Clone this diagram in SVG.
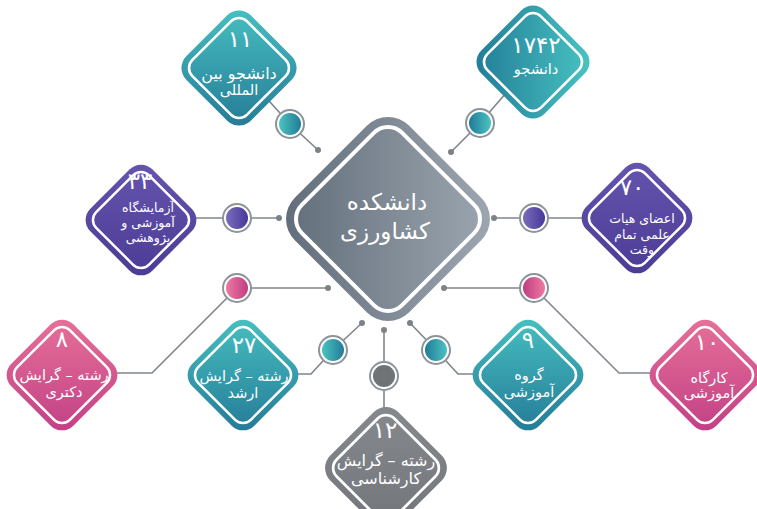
<svg xmlns="http://www.w3.org/2000/svg" xmlns:xlink="http://www.w3.org/1999/xlink" width="757" height="509" viewBox="0 0 757 509">
<style>
.t{font-family:"DejaVu Sans","Noto Sans",sans-serif;fill:#fff;text-anchor:middle}
.num{font-size:23px;letter-spacing:3px}
.lbl{font-size:14.5px}
.big{font-size:16px}
.sm{font-size:12.5px}
.ctr{font-size:23px}
.o{direction:ltr;unicode-bidi:bidi-override}
.inner{fill:none;stroke:#fff;stroke-width:2.5}
.cinner{fill:none;stroke:#fff;stroke-width:4}
.ln{fill:none;stroke:#80868c;stroke-width:1.6}
.ring{fill:#fff;stroke:#8c939a;stroke-width:2}
.dot{fill:#7d8287}
</style>
<defs>
<linearGradient id="gTealV" x1="0" y1="0" x2="0" y2="1"><stop offset="0" stop-color="#46bec0"/><stop offset="1" stop-color="#257c97"/></linearGradient>
<linearGradient id="gTealH" x1="0" y1="0" x2="1" y2="0"><stop offset="0" stop-color="#237e98"/><stop offset="1" stop-color="#47c2c1"/></linearGradient>
<linearGradient id="gPurple" x1="0" y1="0" x2="0" y2="1"><stop offset="0" stop-color="#6454ae"/><stop offset="1" stop-color="#4c3c96"/></linearGradient>
<linearGradient id="gPink" x1="0" y1="0" x2="0" y2="1"><stop offset="0" stop-color="#e66f98"/><stop offset="1" stop-color="#c24186"/></linearGradient>
<linearGradient id="gGray" x1="0" y1="0" x2="0" y2="1"><stop offset="0" stop-color="#85898e"/><stop offset="1" stop-color="#72767b"/></linearGradient>
<linearGradient id="gCenter" x1="0" y1="0" x2="1" y2="0"><stop offset="0" stop-color="#626e7b"/><stop offset="1" stop-color="#9ca6b0"/></linearGradient>
<linearGradient id="cTealL" x1="0" y1="0" x2="1" y2="0"><stop offset="0" stop-color="#4cc3c1"/><stop offset="1" stop-color="#217b97"/></linearGradient>
<linearGradient id="cTealR" x1="0" y1="0" x2="1" y2="0"><stop offset="0" stop-color="#217b97"/><stop offset="1" stop-color="#4cc3c1"/></linearGradient>
<linearGradient id="cPurple" x1="0" y1="0" x2="1" y2="0"><stop offset="0" stop-color="#7b6dbb"/><stop offset="1" stop-color="#47379a"/></linearGradient>
<linearGradient id="cPinkL" x1="0" y1="0" x2="1" y2="0"><stop offset="0" stop-color="#ec7aa0"/><stop offset="1" stop-color="#c03d82"/></linearGradient>
<linearGradient id="cPinkR" x1="0" y1="0" x2="1" y2="0"><stop offset="0" stop-color="#c03d82"/><stop offset="1" stop-color="#ec7aa0"/></linearGradient>
<path id="sOut" d="M11.31,-50.69 L50.69,-11.31 A16 16 0 0 1 50.69,11.31 L11.31,50.69 A16 16 0 0 1 -11.31,50.69 L-50.69,11.31 A16 16 0 0 1 -50.69,-11.31 L-11.31,-50.69 A16 16 0 0 1 11.31,-50.69 Z"/>
<path id="sIn" d="M7.78,-44.82 L44.82,-7.78 A11 11 0 0 1 44.82,7.78 L7.78,44.82 A11 11 0 0 1 -7.78,44.82 L-44.82,7.78 A11 11 0 0 1 -44.82,-7.78 L-7.78,-44.82 A11 11 0 0 1 7.78,-44.82 Z"/>
<path id="cOut" d="M21.21,-93.2 L93.2,-21.21 A30 30 0 0 1 93.2,21.21 L21.21,93.2 A30 30 0 0 1 -21.21,93.2 L-93.2,21.21 A30 30 0 0 1 -93.2,-21.21 L-21.21,-93.2 A30 30 0 0 1 21.21,-93.2 Z"/>
<path id="cIn" d="M14.14,-86.14 L86.14,-14.14 A20 20 0 0 1 86.14,14.14 L14.14,86.14 A20 20 0 0 1 -14.14,86.14 L-86.14,14.14 A20 20 0 0 1 -86.14,-14.14 L-14.14,-86.14 A20 20 0 0 1 14.14,-86.14 Z"/>
</defs>

<g id="connectors">
<polyline class="ln" points="239,68 290,124 318,150"/>
<polyline class="ln" points="533,62 480,123 451,152"/>
<polyline class="ln" points="141,218 279,218"/>
<polyline class="ln" points="494,218 637,218"/>
<polyline class="ln" points="62,373 152,373 237,288 328,288"/>
<polyline class="ln" points="444,288 534,288 619,373 705,373"/>
<polyline class="ln" points="243,374 311,374 333,350 362,323"/>
<polyline class="ln" points="528,374 458,374 436,350 410,323"/>
<polyline class="ln" points="384,330 384,468"/>
<circle class="dot" cx="318" cy="150" r="3"/>
<circle class="dot" cx="451" cy="152" r="3"/>
<circle class="dot" cx="279" cy="218" r="3"/>
<circle class="dot" cx="494" cy="218" r="3"/>
<circle class="dot" cx="328" cy="288" r="3"/>
<circle class="dot" cx="444" cy="288" r="3"/>
<circle class="dot" cx="362" cy="323" r="3"/>
<circle class="dot" cx="410" cy="323" r="3"/>
<circle class="dot" cx="384" cy="330" r="3"/>
<circle class="ring" cx="290" cy="124" r="14"/><circle cx="290" cy="124" r="11" fill="url(#cTealL)"/>
<circle class="ring" cx="480" cy="123" r="14"/><circle cx="480" cy="123" r="11" fill="url(#cTealR)"/>
<circle class="ring" cx="237" cy="218" r="14"/><circle cx="237" cy="218" r="11" fill="url(#cPurple)"/>
<circle class="ring" cx="534" cy="218" r="14"/><circle cx="534" cy="218" r="11" fill="url(#cPurple)"/>
<circle class="ring" cx="237" cy="288" r="14"/><circle cx="237" cy="288" r="11" fill="url(#cPinkL)"/>
<circle class="ring" cx="534" cy="288" r="14"/><circle cx="534" cy="288" r="11" fill="url(#cPinkR)"/>
<circle class="ring" cx="333" cy="350" r="14"/><circle cx="333" cy="350" r="11" fill="url(#cTealL)"/>
<circle class="ring" cx="436" cy="350" r="14"/><circle cx="436" cy="350" r="11" fill="url(#cTealR)"/>
<circle class="ring" cx="384" cy="376" r="14"/><circle cx="384" cy="376" r="11" fill="#707376"/>
</g>

<g id="node-center">
<use href="#cOut" x="388" y="219" fill="url(#gCenter)"/>
<use href="#cIn" x="388" y="219" class="cinner"/>
<text class="t ctr" x="387" y="210">دانشکده</text>
<text class="t ctr" x="385" y="239">کشاورزی</text>
</g>

<g id="node-11">
<use href="#sOut" transform="translate(239 68) scale(1.04)" fill="url(#gTealV)"/>
<use href="#sIn" transform="translate(239 68) scale(1.04)" class="inner"/>
<text class="t num" x="240" y="47">۱۱</text>
<text class="t big" x="239" y="79">دانشجو<tspan class="o"> </tspan>بین</text>
<text class="t lbl" x="239" y="95">المللی</text>
</g>

<g id="node-1742">
<use href="#sOut" transform="translate(533 62) scale(1.02)" fill="url(#gTealH)"/>
<use href="#sIn" transform="translate(533 62) scale(1.02)" class="inner"/>
<text class="t num" x="536" y="53">۱۷۴۲</text>
<text class="t lbl" x="536" y="74">دانشجو</text>
</g>

<g id="node-33">
<use href="#sOut" x="141" y="220" fill="url(#gPurple)"/>
<use href="#sIn" x="141" y="220" class="inner"/>
<text class="t num" x="140" y="189">۳۳</text>
<text class="t sm" x="148" y="212">آزمایشگاه</text>
<text class="t sm" x="148" y="227">آموزشی<tspan class="o"> </tspan>و</text>
<text class="t sm" x="148" y="242">پژوهشی</text>
</g>

<g id="node-70">
<use href="#sOut" x="637" y="218" fill="url(#gPurple)"/>
<use href="#sIn" x="637" y="218" class="inner"/>
<text class="t num" x="632" y="195">۷۰</text>
<text class="t sm" x="642" y="223">اعضای<tspan class="o"> </tspan>هیات</text>
<text class="t sm" x="642" y="239">علمی<tspan class="o"> </tspan>تمام</text>
<text class="t sm" x="642" y="254">وقت</text>
</g>

<g id="node-8">
<use href="#sOut" x="62" y="375" fill="url(#gPink)"/>
<use href="#sIn" x="62" y="375" class="inner"/>
<text class="t num" x="62" y="347">۸</text>
<text class="t lbl" x="64" y="380">رشته<tspan class="o"> – </tspan>گرایش</text>
<text class="t lbl" x="64" y="397">دکتری</text>
</g>

<g id="node-27">
<use href="#sOut" x="243" y="375" fill="url(#gTealV)"/>
<use href="#sIn" x="243" y="375" class="inner"/>
<text class="t num" x="244" y="353">۲۷</text>
<text class="t lbl" x="244" y="381">رشته<tspan class="o"> – </tspan>گرایش</text>
<text class="t lbl" x="243" y="398">ارشد</text>
</g>

<g id="node-12">
<use href="#sOut" transform="translate(386 468) scale(1.1)" fill="url(#gGray)"/>
<use href="#sIn" transform="translate(386 468) scale(1.1)" class="inner"/>
<text class="t num" x="385" y="438">۱۲</text>
<text class="t big" x="386" y="466">رشته<tspan class="o"> – </tspan>گرایش</text>
<text class="t big" x="386" y="484">کارشناسی</text>
</g>

<g id="node-9">
<use href="#sOut" x="528" y="375" fill="url(#gTealV)"/>
<use href="#sIn" x="528" y="375" class="inner"/>
<text class="t num" x="528" y="348">۹</text>
<text class="t lbl" x="529" y="380">گروه</text>
<text class="t lbl" x="529" y="397">آموزشی</text>
</g>

<g id="node-10">
<use href="#sOut" x="705" y="375" fill="url(#gPink)"/>
<use href="#sIn" x="705" y="375" class="inner"/>
<text class="t num" x="707" y="350">۱۰</text>
<text class="t lbl" x="709" y="383">کارگاه</text>
<text class="t lbl" x="709" y="398">آموزشی</text>
</g>
</svg>
